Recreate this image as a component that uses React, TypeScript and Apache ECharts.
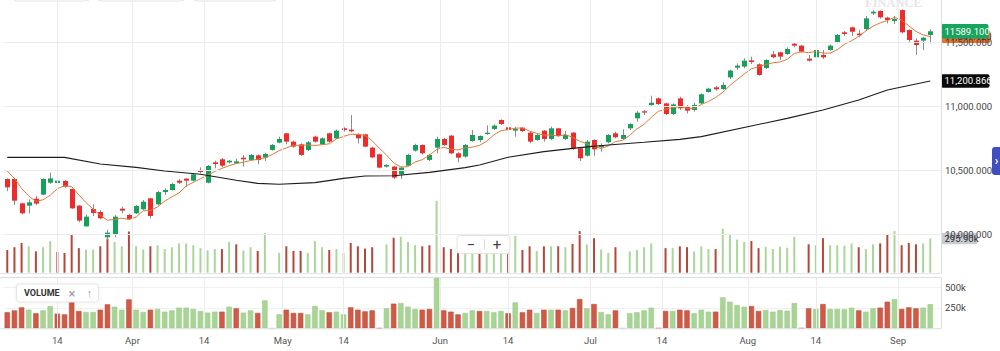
import React, { useEffect, useRef } from "react";
import * as echarts from "echarts";

// ---- DATA (NIFTY-like daily, Mar 5 – Sep 7) ----
const dates = [
  "03-05","03-06","03-07","03-08","03-09","03-12","03-13","03-14","03-15","03-16","03-19","03-20","03-21","03-22","03-23","03-26","03-27","03-28",
  "04-02","04-03","04-04","04-05","04-06","04-09","04-10","04-11","04-12","04-13","04-16","04-17","04-18","04-19","04-20","04-23","04-24","04-25","04-26","04-27","04-30",
  "05-02","05-03","05-04","05-07","05-08","05-09","05-10","05-11","05-14","05-15","05-16","05-17","05-18","05-21","05-22","05-23","05-24","05-25","05-28","05-29","05-30","05-31",
  "06-01","06-04","06-05","06-06","06-07","06-08","06-11","06-12","06-13","06-14","06-15","06-18","06-19","06-20","06-21","06-22","06-25","06-26","06-27","06-28","06-29",
  "07-02","07-03","07-04","07-05","07-06","07-09","07-10","07-11","07-12","07-13","07-16","07-17","07-18","07-19","07-20","07-23","07-24","07-25","07-26","07-27","07-30","07-31",
  "08-01","08-02","08-03","08-06","08-07","08-08","08-09","08-10","08-13","08-14","08-16","08-17","08-20","08-21","08-23","08-24","08-27","08-28","08-29","08-30","08-31",
  "09-03","09-04","09-05","09-06","09-07",
];

// [open, close, low, high]
const candles = [
  [10435,10370,10340,10440],[10435,10266,10232,10445],[10245,10167,10159,10250],[10227,10253,10167,10276],[10281,10243,10232,10302],
  [10313,10435,10308,10440],[10406,10440,10396,10485],[10404,10422,10354,10427],[10420,10375,10367,10427],[10357,10206,10201,10360],
  [10227,10110,10097,10232],[10065,10141,10063,10159],[10201,10170,10146,10237],[10177,10128,10120,10193],[9980,10016,9959,10037],
  [10005,10141,9980,10154],[10203,10188,10167,10219],[10154,10122,10115,10162],[10167,10224,10162,10232],[10198,10258,10193,10271],
  [10284,10146,10128,10289],[10237,10333,10232,10341],[10333,10349,10310,10362],[10349,10396,10344,10406],[10422,10406,10396,10432],
  [10438,10422,10375,10443],[10422,10471,10417,10479],[10505,10490,10479,10526],[10406,10537,10401,10544],[10565,10552,10518,10578],
  [10589,10539,10526,10599],[10565,10578,10557,10583],[10557,10573,10552,10594],[10602,10589,10532,10623],[10584,10623,10576,10631],
  [10620,10584,10550,10628],[10602,10631,10576,10641],[10662,10701,10657,10709],[10719,10748,10714,10766],[10792,10727,10706,10797],
  [10727,10688,10680,10735],[10706,10623,10615,10714],[10662,10722,10654,10732],[10766,10727,10719,10774],[10706,10753,10701,10761],
  [10792,10727,10719,10797],[10753,10813,10748,10821],[10831,10818,10805,10839],[10821,10808,10800,10935],[10784,10753,10714,10792],
  [10784,10688,10683,10789],[10680,10604,10597,10688],[10628,10524,10519,10633],[10532,10545,10524,10550],[10532,10446,10435,10539],
  [10472,10524,10435,10532],[10539,10623,10534,10633],[10657,10701,10649,10711],[10701,10636,10628,10706],[10584,10623,10576,10631],
  [10680,10748,10636,10766],[10748,10701,10693,10758],[10774,10636,10628,10779],[10636,10602,10565,10644],[10610,10701,10602,10709],
  [10732,10779,10727,10818],[10740,10771,10722,10776],[10787,10797,10781,10854],[10826,10852,10818,10862],[10896,10865,10857,10901],
  [10839,10818,10787,10844],[10813,10826,10766,10844],[10836,10810,10802,10841],[10797,10727,10714,10805],[10740,10779,10735,10787],
  [10813,10748,10727,10818],[10748,10831,10740,10844],[10831,10771,10766,10836],[10748,10779,10740,10810],[10797,10675,10662,10802],
  [10675,10597,10576,10683],[10617,10727,10610,10740],[10740,10667,10617,10745],[10683,10701,10649,10714],[10722,10779,10714,10787],
  [10792,10761,10753,10805],[10748,10779,10740,10823],[10831,10865,10818,10870],[10909,10953,10883,10966],[10964,10954,10935,10974],
  [11013,11031,11008,11086],[11065,11021,11013,11073],[11026,10943,10935,11031],[10943,11018,10935,11026],[11065,10987,10974,11078],
  [11005,10969,10948,11013],[10974,11013,10961,11031],[11026,11097,11021,11104],[11115,11141,11110,11149],[11151,11136,11125,11162],
  [11138,11170,11131,11190],[11229,11282,11216,11289],[11305,11321,11287,11339],[11313,11360,11300,11378],[11362,11349,11334,11391],
  [11331,11248,11242,11339],[11302,11365,11295,11370],[11409,11387,11378,11435],[11425,11391,11365,11430],[11412,11451,11404,11464],
  [11492,11477,11464,11500],[11477,11430,11422,11482],[11375,11360,11352,11404],[11386,11443,11378,11456],[11404,11386,11373,11443],
  [11443,11477,11438,11487],[11503,11560,11495,11568],[11581,11568,11552,11591],[11620,11586,11552,11625],[11571,11558,11542,11599],
  [11607,11690,11599,11709],[11729,11742,11716,11755],[11748,11698,11688,11753],[11696,11677,11651,11703],[11670,11685,11646,11709],
  [11755,11581,11573,11761],[11599,11521,11503,11604],[11516,11482,11404,11534],[11516,11539,11443,11547],[11560,11589.1,11495,11604],
];

// short moving average (orange), one value per day
const maShort = [
  10498,10440,10362,10302,10260,10273,10308,10359,10383,10376,
  10311,10251,10200,10151,10113,10119,10129,10119,10138,10187,
  10188,10217,10262,10296,10326,10381,10409,10437,10465,10494,
  10518,10539,10556,10566,10580,10589,10600,10626,10657,10678,
  10699,10697,10702,10697,10703,10710,10748,10768,10784,10784,
  10776,10734,10675,10623,10561,10529,10532,10568,10586,10621,
  10666,10682,10669,10662,10678,10684,10698,10730,10780,10813,
  10821,10832,10834,10809,10792,10778,10779,10771,10782,10761,
  10731,10710,10689,10673,10694,10727,10737,10777,10827,10862,
  10916,10964,10980,10993,11000,10988,10986,11017,11041,11072,
  11112,11166,11211,11255,11296,11312,11329,11343,11349,11370,
  11416,11429,11422,11432,11419,11419,11445,11487,11515,11550,
  11592,11629,11655,11673,11698,11677,11632,11588,11561,11547.12,
];

// long moving average (black): [day index, value]
const maLong = [
  [0,10604],[8,10604],[13,10552],[18,10526],[22,10498],[27,10472],[32,10425],[35,10401],[38,10394],[43,10407],
  [47,10440],[50,10459],[54,10461],[59,10487],[64,10524],[66,10544],[70,10605],[75,10649],[80,10680],[84,10701],
  [89,10722],[94,10745],[97,10766],[109,10909],[114,10974],[119,11052],[123,11131],[129,11200.866],
];

// volume in thousands
const volumes = [
  196,220,257,228,184,220,273,180,171,330,212,200,200,228,294,265,228,355,228,200,
  228,237,204,220,253,253,237,212,192,204,204,265,245,192,220,188,343,0,171,228,
  188,188,171,273,220,196,204,171,257,228,208,220,0,245,302,310,265,237,228,237,
  620,220,204,171,188,220,212,212,196,212,184,318,196,228,188,228,228,228,220,249,
  359,245,298,200,171,220,0,184,196,220,253,0,212,212,228,220,184,228,204,204,
  379,326,286,265,273,212,224,204,224,216,310,0,245,237,298,237,237,233,253,220,
  204,245,253,326,359,237,257,245,253,295.9,
];

// bottom axis labels: [day position, text]
const xTicks = [
  [7,"14"],[17.5,"Apr"],[27.5,"14"],[38.5,"May"],[47,"14"],[60.5,"Jun"],
  [70,"14"],[81.5,"Jul"],[91.5,"14"],[103.5,"Aug"],[113,"14"],[124.5,"Sep"],
];
const priceTicks = [10000, 10500, 11000, 11500];
const volumeTicks = [250, 500];

const GREEN = "#17a05b";
const RED = "#ee2b2b";
const VOL_RED = "#cf5a46";
const VOL_GREEN = "#a8d595";
const FONT = "Roboto, 'Noto Sans', sans-serif";

export default function App() {
  const ref = useRef<HTMLDivElement>(null);

  useEffect(() => {
    const chart = echarts.init(ref.current!, null, { renderer: "svg" });
    const cats = [...dates, ""];
    const n = candles.length;
    const last = n - 1;

    const volColor = (i: number, panel: boolean) => {
      const up = i > 0 && candles[i][1] >= candles[i - 1][1];
      if (panel) return up ? VOL_GREEN : VOL_RED;
      return up ? "#aad59b" : "#b3473a";
    };

    const fmtPrice = (v: number) =>
      v.toLocaleString("en-US", { minimumFractionDigits: 3, maximumFractionDigits: 3 });

    const gridLineStyle = { color: "#ececec", width: 1, type: "solid" as const };

    chart.setOption({
      animation: false,
      textStyle: { fontFamily: FONT },
      grid: [
        { left: 3.7, right: 59, top: 0, height: 272.7 },
        { left: 3.7, right: 59, top: 180, height: 92.7 },
        { left: 3.7, right: 59, top: 277.3, height: 51 },
      ],
      xAxis: [
        { type: "category", gridIndex: 0, data: cats, show: false, position: "bottom" },
        { type: "value", gridIndex: 0, min: -0.5, max: 130.5, show: false, position: "bottom" },
        { type: "category", gridIndex: 1, data: cats, show: false, position: "bottom" },
        { type: "category", gridIndex: 2, data: cats, show: false, position: "bottom" },
        {
          type: "value", gridIndex: 2, min: -0.5, max: 130.5, position: "bottom",
          axisLine: { show: false }, axisTick: { show: false }, splitLine: { show: false },
          axisLabel: {
            customValues: xTicks.map((t) => t[0]),
            formatter: (v: number) => {
              const t = xTicks.find((k) => Math.abs((k[0] as number) - v) < 0.01);
              return t ? (t[1] as string) : "";
            },
            color: "#555", fontSize: 9.5, margin: 7, fontFamily: FONT,
          },
        },
      ],
      yAxis: [
        {
          type: "value", gridIndex: 0, position: "right", min: 9703.1, max: 11833.6,
          axisLine: { show: false }, axisTick: { show: false }, splitLine: { show: false },
          axisLabel: {
            customValues: priceTicks,
            formatter: (v: number) => (priceTicks.includes(v) ? fmtPrice(v) : ""),
            color: "#444", fontSize: 9.5, margin: 4, fontFamily: FONT,
          },
        },
        { type: "value", gridIndex: 1, min: 0, max: 800, show: false },
        {
          type: "value", gridIndex: 2, position: "right", min: 0, max: 625, interval: 250,
          axisLine: { show: false }, axisTick: { show: false },
          splitLine: { show: true, lineStyle: { color: "#f1f1f1" } },
          axisLabel: {
            formatter: (v: number) => (volumeTicks.includes(v) ? `${v}k` : ""),
            color: "#444", fontSize: 9.5, margin: 4, fontFamily: FONT,
          },
        },
      ],
      series: [
        {
          type: "line", xAxisIndex: 1, yAxisIndex: 0, data: [], z: 0, silent: true,
          markLine: {
            symbol: "none", silent: true, label: { show: false }, lineStyle: gridLineStyle,
            data: [
              ...xTicks.map((t) => ({ xAxis: t[0] })),
              ...priceTicks.map((p) => ({ yAxis: p })),
            ],
          },
        },
        {
          type: "line", xAxisIndex: 4, yAxisIndex: 2, data: [], z: 0, silent: true,
          markLine: {
            symbol: "none", silent: true, label: { show: false }, lineStyle: gridLineStyle,
            data: xTicks.map((t) => ({ xAxis: t[0] })),
          },
        },
        {
          type: "bar", xAxisIndex: 2, yAxisIndex: 1, barWidth: 2, z: 1, silent: true,
          data: volumes.map((v, i) => ({ value: v, itemStyle: { color: volColor(i, false) } })),
        },
        {
          type: "bar", xAxisIndex: 3, yAxisIndex: 2, barWidth: 5.4, z: 1, silent: true,
          data: volumes.map((v, i) => ({
            value: v,
            itemStyle: {
              color: volColor(i, true),
              borderColor: volColor(i, true) === VOL_RED ? "#bd4f3d" : "#9acb86",
              borderWidth: 0.6,
            },
          })),
        },
        {
          type: "custom", xAxisIndex: 0, yAxisIndex: 0, z: 3, silent: true,
          data: candles.map((c, i) => [i, c[0], c[1], c[2], c[3]]),
          encode: { x: 0, y: [1, 2, 3, 4] },
          renderItem: (_p: any, api: any) => {
            const i = api.value(0);
            const o = api.value(1), c = api.value(2), l = api.value(3), h = api.value(4);
            const po = api.coord([i, o]);
            const pc = api.coord([i, c]);
            const pl = api.coord([i, l]);
            const ph = api.coord([i, h]);
            const band = api.size([1, 0])[0];
            const w = Math.max(2, Math.round(band * 0.68));
            const xc = Math.round(po[0]);
            const top = Math.min(po[1], pc[1]);
            const hh = Math.max(1.2, Math.abs(po[1] - pc[1]));
            const color = c >= o ? GREEN : RED;
            return {
              type: "group",
              children: [
                { type: "line", shape: { x1: xc + 0.5, y1: ph[1], x2: xc + 0.5, y2: pl[1] }, style: { stroke: "#8c8c8c", lineWidth: 1 } },
                { type: "rect", shape: { x: xc + 0.5 - w / 2, y: top, width: w, height: hh }, style: { fill: color, stroke: null } },
              ],
            };
          },
        },
        {
          type: "line", xAxisIndex: 0, yAxisIndex: 0, data: maShort, z: 4, silent: true,
          showSymbol: false, symbol: "none", smooth: false,
          lineStyle: { color: "#e07a3c", width: 1 },
        },
        {
          type: "line", xAxisIndex: 1, yAxisIndex: 0, data: maLong, z: 5, silent: true,
          showSymbol: false, symbol: "none",
          lineStyle: { color: "#1c1c1c", width: 1.1 },
        },
      ],
    });

    const py = (v: number) => chart.convertToPixel({ yAxisIndex: 0 }, v) as number;
    const vy = (v: number) => chart.convertToPixel({ yAxisIndex: 1 }, v) as number;

    const tag = (y: number, h: number, w: number, fill: string, text: string, color: string, z: number) => ({
      type: "group", z,
      children: [
        { type: "rect", shape: { x: 941, y: y - h / 2, width: w, height: h, r: 2 }, style: { fill } },
        { type: "text", x: 944.5, y, style: { text, fill: color, font: `9.5px ${FONT}`, verticalAlign: "middle", align: "left" } },
      ],
    });

    const lastClose = candles[last][1];
    const lastMaShort = maShort[maShort.length - 1];
    const lastMaLong = maLong[maLong.length - 1][1];
    const lastVol = volumes[last];

    chart.setOption({
      graphic: [
        // faint header boxes
        { type: "rect", z: 50, shape: { x: 13, y: -12, width: 77, height: 13, r: 4 }, style: { fill: "#fff", stroke: "#e4e4e4" } },
        { type: "rect", z: 50, shape: { x: 97, y: -12, width: 88, height: 13, r: 4 }, style: { fill: "#fff", stroke: "#e4e4e4" } },
        { type: "rect", z: 50, shape: { x: 193, y: -12, width: 84, height: 13, r: 4 }, style: { fill: "#fff", stroke: "#e4e4e4" } },
        // watermark
        { type: "text", z: 0, x: 865, y: 9, style: { text: "FINANCE", fill: "#e6e6e6", font: "bold 12.5px 'Liberation Serif', serif", verticalAlign: "bottom" } },
        // panel borders
        { type: "line", z: 20, shape: { x1: 941.5, y1: 0, x2: 941.5, y2: 273 }, style: { stroke: "#dedede", lineWidth: 1 } },
        { type: "line", z: 20, shape: { x1: 941.5, y1: 277.5, x2: 941.5, y2: 328.5 }, style: { stroke: "#dedede", lineWidth: 1 } },
        { type: "line", z: 20, shape: { x1: 0, y1: 273.5, x2: 941.5, y2: 273.5 }, style: { stroke: "#e6e6e6", lineWidth: 1 } },
        { type: "line", z: 20, shape: { x1: 0, y1: 277.5, x2: 941.5, y2: 277.5 }, style: { stroke: "#d9dfe7", lineWidth: 1 } },
        { type: "line", z: 20, shape: { x1: 0, y1: 328.8, x2: 941.5, y2: 328.8 }, style: { stroke: "#e2e2e2", lineWidth: 1 } },
        // zoom control
        { type: "rect", z: 60, shape: { x: 457, y: 235.5, width: 53, height: 18, r: 3 }, style: { fill: "rgba(255,255,255,0.95)", stroke: "#e2e2e2" } },
        { type: "line", z: 61, shape: { x1: 484.5, y1: 239, x2: 484.5, y2: 250 }, style: { stroke: "#dcdcdc", lineWidth: 1 } },
        { type: "text", z: 61, x: 471, y: 244.5, style: { text: "\u2212", fill: "#444", font: `15px ${FONT}`, align: "center", verticalAlign: "middle" } },
        { type: "text", z: 61, x: 497, y: 244.5, style: { text: "+", fill: "#444", font: `15px ${FONT}`, align: "center", verticalAlign: "middle" } },
        // volume legend
        { type: "rect", z: 60, shape: { x: 16.5, y: 284, width: 82, height: 18, r: 3 }, style: { fill: "#fff", stroke: "#e6e6e6", shadowBlur: 3, shadowColor: "rgba(0,0,0,0.08)" } },
        { type: "text", z: 61, x: 24, y: 293, style: { text: "VOLUME", fill: "#333", font: `bold 9px ${FONT}`, verticalAlign: "middle" } },
        { type: "text", z: 61, x: 72, y: 293, style: { text: "\u00d7", fill: "#9a9a9a", font: `13px ${FONT}`, align: "center", verticalAlign: "middle" } },
        { type: "text", z: 61, x: 89.5, y: 293, style: { text: "\u2191", fill: "#9a9a9a", font: `11px ${FONT}`, align: "center", verticalAlign: "middle" } },
        // right side tab
        { type: "rect", z: 60, shape: { x: 992, y: 147, width: 12, height: 28, r: 3 }, style: { fill: "#3f4fc2" } },
        { type: "text", z: 61, x: 996.5, y: 161, style: { text: "\u203a", fill: "#fff", font: `bold 12px ${FONT}`, align: "center", verticalAlign: "middle" } },
        // value tags
        tag(vy(lastVol), 11.5, 36.5, "#c8ccd4", `${lastVol.toFixed(2)}k`, "#2b2b2b", 100),
        tag(py(lastMaLong), 13.5, 48.5, "#0a0a0a", fmtPrice(lastMaLong), "#ffffff", 101),
        tag(py(lastMaShort), 12.5, 49.5, "#e8722c", fmtPrice(lastMaShort), "#1f2a44", 102),
        tag(py(lastClose), 14.5, 47.5, "#19a45d", lastClose.toFixed(3), "#ffffff", 103),
      ],
    });

    return () => chart.dispose();
  }, []);

  return (
    <div
      ref={ref}
      style={{ position: "fixed", left: 0, top: 0, width: 1000, height: 351, background: "#fff" }}
    />
  );
}
